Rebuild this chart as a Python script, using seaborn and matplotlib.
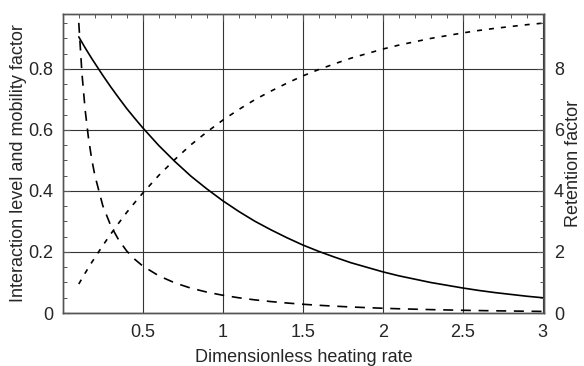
import matplotlib
matplotlib.use("Agg")
import matplotlib.pyplot as plt
import seaborn as sns
import pandas as pd
from matplotlib.ticker import MultipleLocator

# Dimensionless heating rate
heating_rate = [0.10, 0.12, 0.14, 0.16, 0.18, 0.20, 0.25, 0.30, 0.35, 0.40, 0.45, 0.50,
                0.6, 0.7, 0.8, 0.9, 1.0, 1.1, 1.2, 1.3, 1.4, 1.5, 1.6, 1.7, 1.8, 1.9,
                2.0, 2.1, 2.2, 2.3, 2.4, 2.5, 2.6, 2.7, 2.8, 2.9, 3.0]

# Interaction level (solid, left axis)
interaction_level = [0.905, 0.887, 0.869, 0.852, 0.835, 0.819, 0.779, 0.741, 0.705, 0.670, 0.638, 0.607,
                     0.549, 0.497, 0.449, 0.407, 0.368, 0.333, 0.301, 0.273, 0.247, 0.223, 0.202, 0.183,
                     0.165, 0.150, 0.135, 0.122, 0.111, 0.100, 0.091, 0.082, 0.074, 0.067, 0.061, 0.055, 0.050]

# Mobility factor (dotted, left axis)
mobility_factor = [0.095, 0.113, 0.131, 0.148, 0.165, 0.181, 0.221, 0.259, 0.295, 0.330, 0.362, 0.393,
                   0.451, 0.503, 0.551, 0.593, 0.632, 0.667, 0.699, 0.727, 0.753, 0.777, 0.798, 0.817,
                   0.835, 0.850, 0.865, 0.878, 0.889, 0.900, 0.909, 0.918, 0.926, 0.933, 0.939, 0.945, 0.950]

# Retention factor (dashed, right axis)
retention_factor = [9.51, 7.84, 6.65, 5.76, 5.07, 4.52, 3.52, 2.86, 2.39, 2.03, 1.76, 1.54,
                    1.22, 0.988, 0.816, 0.686, 0.582, 0.499, 0.431, 0.375, 0.328, 0.287, 0.253, 0.224,
                    0.198, 0.176, 0.156, 0.139, 0.125, 0.111, 0.100, 0.089, 0.080, 0.072, 0.065, 0.058, 0.052]

x_ticks = [0.5, 1, 1.5, 2, 2.5, 3]
x_tick_labels = ["0.5", "1", "1.5", "2", "2.5", "3"]
left_ticks = [0, 0.2, 0.4, 0.6, 0.8]
left_tick_labels = ["0", "0.2", "0.4", "0.6", "0.8"]
right_ticks = [0, 2, 4, 6, 8]
right_tick_labels = ["0", "2", "4", "6", "8"]

df = pd.DataFrame({"x": heating_rate, "solid": interaction_level,
                   "dotted": mobility_factor, "dashed": retention_factor})

sns.set_style("white")
plt.rcParams["font.family"] = ["Liberation Sans", "DejaVu Sans"]

fig = plt.figure(figsize=(5.84, 3.66), dpi=100)
ax = fig.add_axes([0.1075, 0.1448, 0.8245, 0.8169])

sns.lineplot(data=df, x="x", y="solid", ax=ax, color="black", linewidth=1.2)
sns.lineplot(data=df, x="x", y="dotted", ax=ax, color="black", linewidth=1.2,
             linestyle=(0, (3, 4.2)))
ax.set_xlim(0, 3.01)
ax.set_ylim(0, 0.98)

ax2 = ax.twinx()
sns.lineplot(data=df, x="x", y="dashed", ax=ax2, color="black", linewidth=1.2,
             linestyle=(0, (6, 4.6)))
ax2.set_ylim(0, 9.8)

ax.set_xticks(x_ticks)
ax.set_xticklabels(x_tick_labels)
ax.set_yticks(left_ticks)
ax.set_yticklabels(left_tick_labels)
ax2.set_yticks(right_ticks)
ax2.set_yticklabels(right_tick_labels)
ax.xaxis.set_minor_locator(MultipleLocator(0.1))
ax.yaxis.set_minor_locator(MultipleLocator(0.05))
ax2.yaxis.set_minor_locator(MultipleLocator(0.5))

ax.grid(True, which="major", color="#333333", linewidth=0.8)
ax.set_axisbelow(True)

for a in (ax, ax2):
    for s in a.spines.values():
        s.set_color("#555555")
        s.set_linewidth(1.0)

ax.tick_params(axis="both", which="major", direction="in", length=5, width=0.8,
               top=True, labelsize=13, color="#555555")
ax.tick_params(axis="both", which="minor", direction="in", length=3, width=0.7,
               top=True, color="#555555")
ax.tick_params(axis="x", which="major", pad=8)
ax.tick_params(axis="y", which="major", pad=7)
ax2.tick_params(axis="y", which="major", direction="in", length=5, width=0.8,
                labelsize=13, pad=7, color="#555555")
ax2.tick_params(axis="y", which="minor", direction="in", length=3, width=0.7,
                color="#555555")

ax.set_xlabel("Dimensionless heating rate", fontsize=13)
ax.xaxis.set_label_coords(0.5, -0.12)
ax.set_ylabel("Interaction level and mobility factor", fontsize=13)
ax.yaxis.set_label_coords(-0.074, 0.5)
ax2.set_ylabel("Retention factor", fontsize=13)
ax2.yaxis.set_label_coords(1.042, 0.5)

fig.savefig("out.png", dpi=100)
